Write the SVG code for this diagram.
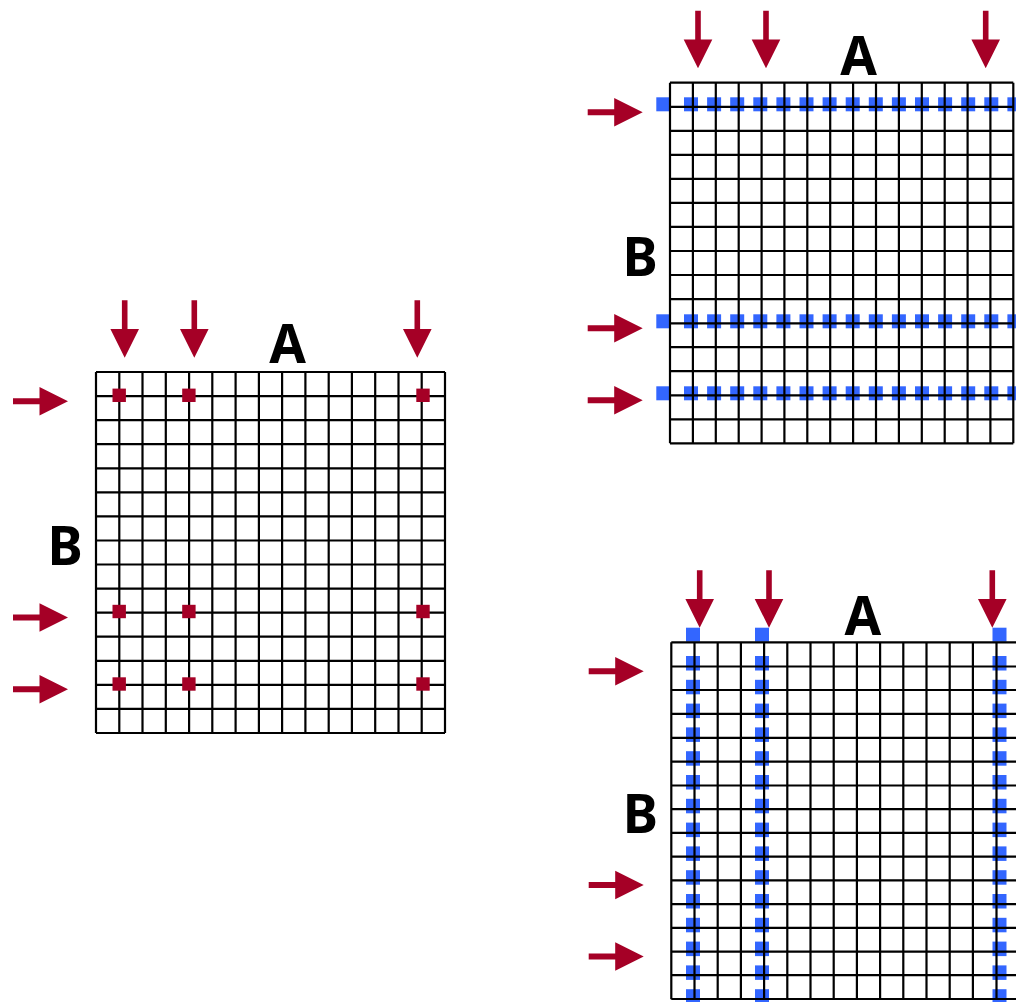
<svg xmlns="http://www.w3.org/2000/svg" xmlns:xlink="http://www.w3.org/1999/xlink" width="1016" height="1002" viewBox="0 0 1016 1002">
<style>
.grid{fill:none;stroke:#000;stroke-width:2.2}
.arrow{fill:#a50026}
.dot{fill:#a50026}
.blue{fill:#3366ff}
.lbl{font-family:"Noto Sans","Open Sans","DejaVu Sans",sans-serif;font-weight:bold;font-size:53px;fill:#000;text-anchor:middle}
</style>
<defs>
<path id="down" d="M-2.8,-57.5 H2.8 V-28.8 H14.3 L0,0 L-14.3,-28.8 H-2.8 Z"/>
<path id="right" d="M-55,-3 H-28.5 V-14.3 L0,0 L-28.5,14.3 V3 H-55 Z"/>
</defs>
<rect width="1016" height="1002" fill="#fff"/>

<g id="matrix-left">
<path class="grid" d="M96,372V733M119.3,372V733M142.5,372V733M165.8,372V733M189.1,372V733M212.3,372V733M235.6,372V733M258.9,372V733M282.1,372V733M305.4,372V733M328.7,372V733M351.9,372V733M375.2,372V733M398.5,372V733M421.7,372V733M445,372V733
M96,372H445M96,396.1H445M96,420.1H445M96,444.2H445M96,468.3H445M96,492.3H445M96,516.4H445M96,540.5H445M96,564.5H445M96,588.6H445M96,612.7H445M96,636.7H445M96,660.8H445M96,684.9H445M96,708.9H445M96,733H445"/>
<rect class="dot" x="112.5" y="388.6" width="13.4" height="13.4"/>
<rect class="dot" x="182.2" y="388.6" width="13.4" height="13.4"/>
<rect class="dot" x="416.3" y="388.6" width="13.4" height="13.4"/>
<rect class="dot" x="112.5" y="604.8" width="13.4" height="13.4"/>
<rect class="dot" x="182.2" y="604.8" width="13.4" height="13.4"/>
<rect class="dot" x="416.3" y="604.8" width="13.4" height="13.4"/>
<rect class="dot" x="112.5" y="677.3" width="13.4" height="13.4"/>
<rect class="dot" x="182.2" y="677.3" width="13.4" height="13.4"/>
<rect class="dot" x="416.3" y="677.3" width="13.4" height="13.4"/>
<text class="lbl" x="287.5" y="363">A</text>
<text class="lbl" x="65" y="565.3">B</text>
</g>

<g id="matrix-top-right">
<rect class="blue" x="656.3" y="97.3" width="14" height="14"/>
<rect class="blue" x="656.3" y="314.3" width="14" height="14"/>
<rect class="blue" x="656.3" y="386.3" width="14" height="14"/>
<g id="rows-dashes">
<rect class="blue" x="684" y="97.3" width="14" height="14"/><rect class="blue" x="707.1" y="97.3" width="14" height="14"/><rect class="blue" x="730.2" y="97.3" width="14" height="14"/><rect class="blue" x="753.3" y="97.3" width="14" height="14"/><rect class="blue" x="776.4" y="97.3" width="14" height="14"/><rect class="blue" x="799.5" y="97.3" width="14" height="14"/><rect class="blue" x="822.6" y="97.3" width="14" height="14"/><rect class="blue" x="845.7" y="97.3" width="14" height="14"/><rect class="blue" x="868.8" y="97.3" width="14" height="14"/><rect class="blue" x="891.9" y="97.3" width="14" height="14"/><rect class="blue" x="915" y="97.3" width="14" height="14"/><rect class="blue" x="938.1" y="97.3" width="14" height="14"/><rect class="blue" x="961.2" y="97.3" width="14" height="14"/><rect class="blue" x="984.3" y="97.3" width="14" height="14"/><rect class="blue" x="1007.4" y="97.3" width="14" height="14"/>
<rect class="blue" x="684" y="314.3" width="14" height="14"/><rect class="blue" x="707.1" y="314.3" width="14" height="14"/><rect class="blue" x="730.2" y="314.3" width="14" height="14"/><rect class="blue" x="753.3" y="314.3" width="14" height="14"/><rect class="blue" x="776.4" y="314.3" width="14" height="14"/><rect class="blue" x="799.5" y="314.3" width="14" height="14"/><rect class="blue" x="822.6" y="314.3" width="14" height="14"/><rect class="blue" x="845.7" y="314.3" width="14" height="14"/><rect class="blue" x="868.8" y="314.3" width="14" height="14"/><rect class="blue" x="891.9" y="314.3" width="14" height="14"/><rect class="blue" x="915" y="314.3" width="14" height="14"/><rect class="blue" x="938.1" y="314.3" width="14" height="14"/><rect class="blue" x="961.2" y="314.3" width="14" height="14"/><rect class="blue" x="984.3" y="314.3" width="14" height="14"/><rect class="blue" x="1007.4" y="314.3" width="14" height="14"/>
<rect class="blue" x="684" y="386.3" width="14" height="14"/><rect class="blue" x="707.1" y="386.3" width="14" height="14"/><rect class="blue" x="730.2" y="386.3" width="14" height="14"/><rect class="blue" x="753.3" y="386.3" width="14" height="14"/><rect class="blue" x="776.4" y="386.3" width="14" height="14"/><rect class="blue" x="799.5" y="386.3" width="14" height="14"/><rect class="blue" x="822.6" y="386.3" width="14" height="14"/><rect class="blue" x="845.7" y="386.3" width="14" height="14"/><rect class="blue" x="868.8" y="386.3" width="14" height="14"/><rect class="blue" x="891.9" y="386.3" width="14" height="14"/><rect class="blue" x="915" y="386.3" width="14" height="14"/><rect class="blue" x="938.1" y="386.3" width="14" height="14"/><rect class="blue" x="961.2" y="386.3" width="14" height="14"/><rect class="blue" x="984.3" y="386.3" width="14" height="14"/><rect class="blue" x="1007.4" y="386.3" width="14" height="14"/>
</g>
<path class="grid" d="M670,82.7V443.3M692.9,82.7V443.3M715.8,82.7V443.3M738.7,82.7V443.3M761.6,82.7V443.3M784.4,82.7V443.3M807.3,82.7V443.3M830.2,82.7V443.3M853.1,82.7V443.3M876,82.7V443.3M898.9,82.7V443.3M921.8,82.7V443.3M944.7,82.7V443.3M967.6,82.7V443.3M990.4,82.7V443.3M1013.3,82.7V443.3
M670,82.7H1013.3M670,106.9H1013.3M670,130.8H1013.3M670,154.8H1013.3M670,178.9H1013.3M670,202.9H1013.3M670,226.9H1013.3M670,251H1013.3M670,275H1013.3M670,299.1H1013.3M670,323.3H1013.3M670,347.1H1013.3M670,371.2H1013.3M670,395.3H1013.3M670,419.3H1013.3M670,443.3H1013.3"/>
<text class="lbl" x="858.7" y="75">A</text>
<text class="lbl" x="640.2" y="276">B</text>
</g>

<g id="matrix-bottom-right">
<rect class="blue" x="686" y="627.7" width="14" height="14"/>
<rect class="blue" x="755" y="627.7" width="14" height="14"/>
<rect class="blue" x="992.5" y="627.7" width="14" height="14"/>
<g id="col-dashes">
<rect class="blue" x="686" y="656" width="14" height="14.5"/><rect class="blue" x="686" y="679.8" width="14" height="14.5"/><rect class="blue" x="686" y="703.6" width="14" height="14.5"/><rect class="blue" x="686" y="727.4" width="14" height="14.5"/><rect class="blue" x="686" y="751.2" width="14" height="14.5"/><rect class="blue" x="686" y="775" width="14" height="14.5"/><rect class="blue" x="686" y="798.8" width="14" height="14.5"/><rect class="blue" x="686" y="822.6" width="14" height="14.5"/><rect class="blue" x="686" y="846.4" width="14" height="14.5"/><rect class="blue" x="686" y="870.2" width="14" height="14.5"/><rect class="blue" x="686" y="894" width="14" height="14.5"/><rect class="blue" x="686" y="917.8" width="14" height="14.5"/><rect class="blue" x="686" y="941.6" width="14" height="14.5"/><rect class="blue" x="686" y="965.4" width="14" height="14.5"/><rect class="blue" x="686" y="989.2" width="14" height="14.5"/>
<rect class="blue" x="755" y="656" width="14" height="14.5"/><rect class="blue" x="755" y="679.8" width="14" height="14.5"/><rect class="blue" x="755" y="703.6" width="14" height="14.5"/><rect class="blue" x="755" y="727.4" width="14" height="14.5"/><rect class="blue" x="755" y="751.2" width="14" height="14.5"/><rect class="blue" x="755" y="775" width="14" height="14.5"/><rect class="blue" x="755" y="798.8" width="14" height="14.5"/><rect class="blue" x="755" y="822.6" width="14" height="14.5"/><rect class="blue" x="755" y="846.4" width="14" height="14.5"/><rect class="blue" x="755" y="870.2" width="14" height="14.5"/><rect class="blue" x="755" y="894" width="14" height="14.5"/><rect class="blue" x="755" y="917.8" width="14" height="14.5"/><rect class="blue" x="755" y="941.6" width="14" height="14.5"/><rect class="blue" x="755" y="965.4" width="14" height="14.5"/><rect class="blue" x="755" y="989.2" width="14" height="14.5"/>
<rect class="blue" x="992.5" y="656" width="14" height="14.5"/><rect class="blue" x="992.5" y="679.8" width="14" height="14.5"/><rect class="blue" x="992.5" y="703.6" width="14" height="14.5"/><rect class="blue" x="992.5" y="727.4" width="14" height="14.5"/><rect class="blue" x="992.5" y="751.2" width="14" height="14.5"/><rect class="blue" x="992.5" y="775" width="14" height="14.5"/><rect class="blue" x="992.5" y="798.8" width="14" height="14.5"/><rect class="blue" x="992.5" y="822.6" width="14" height="14.5"/><rect class="blue" x="992.5" y="846.4" width="14" height="14.5"/><rect class="blue" x="992.5" y="870.2" width="14" height="14.5"/><rect class="blue" x="992.5" y="894" width="14" height="14.5"/><rect class="blue" x="992.5" y="917.8" width="14" height="14.5"/><rect class="blue" x="992.5" y="941.6" width="14" height="14.5"/><rect class="blue" x="992.5" y="965.4" width="14" height="14.5"/><rect class="blue" x="992.5" y="989.2" width="14" height="14.5"/>
</g>
<path class="grid" d="M671.3,642.3V999.3M694.5,642.3V999.3M717.7,642.3V999.3M740.9,642.3V999.3M764.1,642.3V999.3M787.3,642.3V999.3M810.5,642.3V999.3M833.7,642.3V999.3M856.9,642.3V999.3M880.1,642.3V999.3M903.3,642.3V999.3M926.5,642.3V999.3M949.7,642.3V999.3M972.9,642.3V999.3M996.5,642.3V999.3M1019.3,642.3V999.3
M671.3,642.3H1019.3M671.3,666.5H1019.3M671.3,690H1019.3M671.3,713.9H1019.3M671.3,737.8H1019.3M671.3,761.6H1019.3M671.3,785.5H1019.3M671.3,809.1H1019.3M671.3,832.9H1019.3M671.3,856.7H1019.3M671.3,880.3H1019.3M671.3,904.1H1019.3M671.3,927.8H1019.3M671.3,951.7H1019.3M671.3,975.2H1019.3M671.3,999H1019.3"/>
<text class="lbl" x="862.8" y="635">A</text>
<text class="lbl" x="640.3" y="833.3">B</text>
</g>

<g id="connectors">
<use class="arrow" xlink:href="#down" x="124.7" y="357.7"/>
<use class="arrow" xlink:href="#down" x="194.3" y="357.7"/>
<use class="arrow" xlink:href="#down" x="417.3" y="357.7"/>
<use class="arrow" xlink:href="#right" x="68" y="401.3"/>
<use class="arrow" xlink:href="#right" x="68" y="617.5"/>
<use class="arrow" xlink:href="#right" x="68" y="689.2"/>
<use class="arrow" xlink:href="#down" x="698" y="68.3"/>
<use class="arrow" xlink:href="#down" x="766" y="68.3"/>
<use class="arrow" xlink:href="#down" x="985.7" y="68.3"/>
<use class="arrow" xlink:href="#right" x="642.7" y="112.3"/>
<use class="arrow" xlink:href="#right" x="642.7" y="328.3"/>
<use class="arrow" xlink:href="#right" x="642.7" y="400.3"/>
<use class="arrow" xlink:href="#down" x="699.7" y="627.7"/>
<use class="arrow" xlink:href="#down" x="769" y="627.7"/>
<use class="arrow" xlink:href="#down" x="992.3" y="627.7"/>
<use class="arrow" xlink:href="#right" x="643.7" y="671.3"/>
<use class="arrow" xlink:href="#right" x="643.7" y="885"/>
<use class="arrow" xlink:href="#right" x="643.7" y="956.5"/>
</g>
</svg>
